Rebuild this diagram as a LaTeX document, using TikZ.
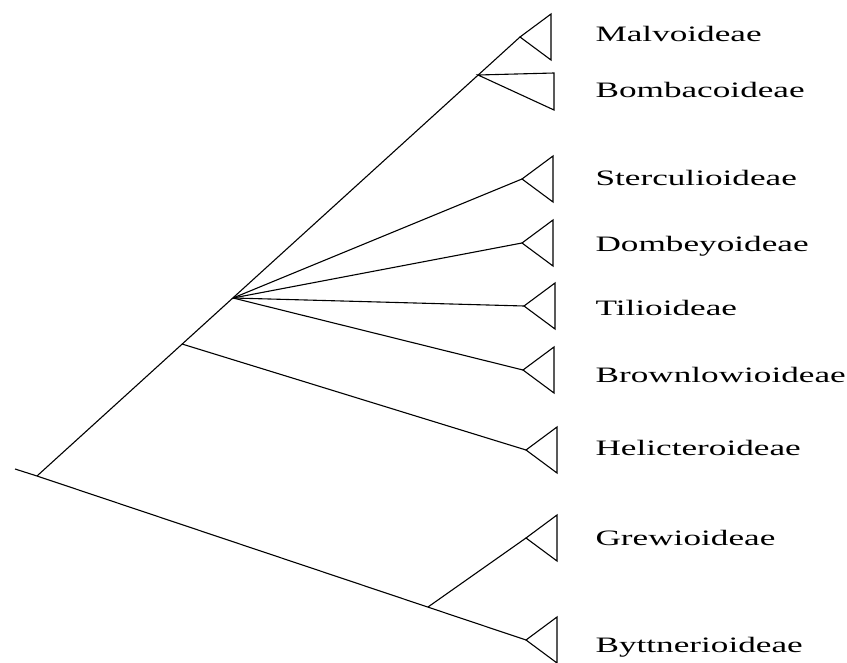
\documentclass[tikz,border=0pt]{standalone}
\usepackage{fontspec}
\newfontfamily\taxfont[FakeStretch=1.6]{Liberation Serif}
\usetikzlibrary{positioning}

\begin{document}
\begin{tikzpicture}[x=1pt, y=-1pt, line width=1.1pt,
		every node/.style={font=\taxfont\fontsize{22}{26}\selectfont, anchor=base west, inner sep=0pt},
		clade/.style={draw, line join=miter}]
	\useasboundingbox (0,0) rectangle (847,663);
	% branch points
	\coordinate (stub) at (15,469);
	\coordinate (root) at (37,476);
	\coordinate (hj)   at (182,344);
	\coordinate (poly) at (233,298);
	\coordinate (bomb) at (478,75);
	\coordinate (gj)   at (428,607);
	% collapsed clades (apex of each triangle)
	\coordinate (malv) at (520,37);
	\coordinate (ster) at (522,179);
	\coordinate (domb) at (522,243);
	\coordinate (tili) at (524,306);
	\coordinate (brow) at (523,370);
	\coordinate (heli) at (526,450);
	\coordinate (grew) at (526,538);
	\coordinate (byt)  at (526,640);
	\coordinate (bt)   at (554,73);
	\coordinate (bb)   at (554,110);
	% tree
	\draw (stub) -- (root) -- (byt);
	\draw (root) -- (malv);
	\draw (hj) -- (heli);
	\draw (gj) -- (grew);
	\foreach \t in {ster, domb, tili, brow}
		\draw (poly) -- (\t);
	\foreach \t in {malv, ster, domb, tili, brow, heli, grew, byt}
		\draw[clade] (\t) -- ++(31,-23) -- ++(0,46) -- cycle;
	\draw[clade] (bomb) -- (bt) -- (bb) -- cycle;
	% names
	\node (lmalv) at (595,42)  {Malvoideae};
	\node (lbomb) at (595,98)  {Bombacoideae};
	\node (lster) at (595,186) {Sterculioideae};
	\node (ldomb) at (595,252) {Dombeyoideae};
	\node (ltili) at (595,316) {Tilioideae};
	\node (lbrow) at (595,382) {Brownlowioideae};
	\node (lheli) at (595,455) {Helicteroideae};
	\node (lgrew) at (595,545) {Grewioideae};
	\node (lbyt)  at (595,652) {Byttnerioideae};
\end{tikzpicture}
\end{document}
